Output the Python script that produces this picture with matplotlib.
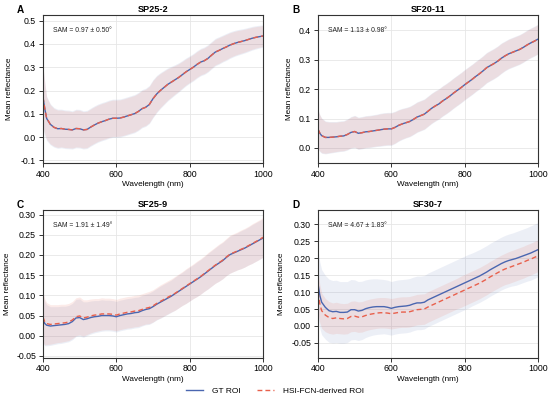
import numpy as np
import matplotlib
matplotlib.use("Agg")
import matplotlib.pyplot as plt
from matplotlib.lines import Line2D

plt.rcParams['font.family'] = ['Liberation Sans', 'DejaVu Sans']

# wavelength grid (nm)
wavelengths = np.concatenate([[400, 405], np.arange(410, 1001, 10)])

panel_letters = ["A", "B", "C", "D"]
panel_titles = ["SP25-2", "SF20-11", "SF25-9", "SF30-7"]
sam_texts = ["SAM = 0.97 ± 0.50°", "SAM = 1.13 ± 0.98°",
             "SAM = 1.91 ± 1.49°", "SAM = 4.67 ± 1.83°"]
legend_labels = ["GT ROI", "HSI-FCN-derived ROI"]

# ---- Panel A: SP25-2 ----
a_gt_mean = [0.170, 0.120, 0.080, 0.055, 0.042, 0.036, 0.037, 0.034, 0.033, 0.031,
             0.037, 0.036, 0.031, 0.033, 0.043, 0.052, 0.060, 0.066, 0.071, 0.077,
             0.081, 0.081, 0.082, 0.086, 0.091, 0.096, 0.101, 0.110, 0.122, 0.128,
             0.140, 0.165, 0.185, 0.200, 0.213, 0.226, 0.236, 0.246, 0.256, 0.268,
             0.280, 0.290, 0.300, 0.312, 0.322, 0.328, 0.338, 0.352, 0.365, 0.372,
             0.380, 0.387, 0.395, 0.401, 0.406, 0.410, 0.414, 0.419, 0.424, 0.428,
             0.431, 0.434]
a_pr_mean = [0.172, 0.122, 0.081, 0.055, 0.042, 0.036, 0.037, 0.034, 0.033, 0.031,
             0.037, 0.036, 0.031, 0.033, 0.043, 0.052, 0.060, 0.066, 0.071, 0.077,
             0.081, 0.081, 0.082, 0.086, 0.091, 0.096, 0.101, 0.110, 0.122, 0.128,
             0.140, 0.165, 0.185, 0.200, 0.213, 0.226, 0.236, 0.246, 0.256, 0.268,
             0.280, 0.290, 0.300, 0.312, 0.322, 0.328, 0.338, 0.352, 0.365, 0.372,
             0.380, 0.387, 0.395, 0.401, 0.406, 0.410, 0.414, 0.419, 0.424, 0.428,
             0.431, 0.434]
a_gt_std = [0.135, 0.115, 0.095, 0.088, 0.085, 0.084, 0.083, 0.083, 0.083, 0.082,
            0.083, 0.083, 0.082, 0.082, 0.082, 0.082, 0.082, 0.082, 0.082, 0.082,
            0.082, 0.082, 0.082, 0.082, 0.082, 0.082, 0.082, 0.082, 0.082, 0.082,
            0.082, 0.082, 0.080, 0.077, 0.074, 0.071, 0.068, 0.065, 0.063, 0.061,
            0.060, 0.059, 0.059, 0.059, 0.059, 0.059, 0.059, 0.059, 0.059, 0.059,
            0.058, 0.058, 0.057, 0.056, 0.055, 0.054, 0.053, 0.052, 0.051, 0.050,
            0.049, 0.048]
a_pr_std = [0.130, 0.110, 0.090, 0.084, 0.081, 0.080, 0.079, 0.079, 0.079, 0.078,
            0.079, 0.079, 0.078, 0.078, 0.078, 0.078, 0.078, 0.078, 0.078, 0.078,
            0.078, 0.078, 0.078, 0.078, 0.078, 0.078, 0.078, 0.078, 0.078, 0.078,
            0.078, 0.078, 0.076, 0.073, 0.070, 0.067, 0.064, 0.061, 0.059, 0.057,
            0.056, 0.055, 0.055, 0.055, 0.055, 0.055, 0.055, 0.055, 0.055, 0.055,
            0.054, 0.054, 0.053, 0.052, 0.051, 0.050, 0.049, 0.048, 0.047, 0.046,
            0.045, 0.045]

# ---- Panel B: SF20-11 ----
b_gt_mean = [0.063, 0.050, 0.042, 0.036, 0.036, 0.037, 0.038, 0.040, 0.041, 0.046,
             0.053, 0.056, 0.050, 0.052, 0.055, 0.056, 0.058, 0.060, 0.062, 0.064,
             0.065, 0.065, 0.070, 0.077, 0.082, 0.086, 0.090, 0.097, 0.105, 0.110,
             0.115, 0.125, 0.135, 0.143, 0.150, 0.160, 0.168, 0.177, 0.187, 0.196,
             0.205, 0.215, 0.224, 0.233, 0.243, 0.252, 0.262, 0.273, 0.280, 0.287,
             0.295, 0.305, 0.313, 0.320, 0.325, 0.330, 0.335, 0.342, 0.350, 0.357,
             0.363, 0.370]
b_pr_mean = [0.064, 0.051, 0.042, 0.036, 0.036, 0.037, 0.038, 0.040, 0.041, 0.046,
             0.053, 0.056, 0.050, 0.052, 0.055, 0.056, 0.058, 0.060, 0.062, 0.064,
             0.065, 0.065, 0.070, 0.077, 0.082, 0.086, 0.090, 0.097, 0.105, 0.110,
             0.115, 0.125, 0.135, 0.143, 0.150, 0.160, 0.168, 0.177, 0.187, 0.196,
             0.205, 0.215, 0.224, 0.233, 0.243, 0.252, 0.262, 0.273, 0.280, 0.287,
             0.295, 0.305, 0.313, 0.320, 0.325, 0.330, 0.335, 0.342, 0.350, 0.357,
             0.363, 0.370]
b_gt_std = [0.068, 0.063, 0.060, 0.056, 0.054, 0.053, 0.052, 0.052, 0.052, 0.053,
            0.054, 0.055, 0.055, 0.055, 0.055, 0.055, 0.055, 0.055, 0.056, 0.056,
            0.056, 0.056, 0.055, 0.054, 0.053, 0.052, 0.052, 0.052, 0.052, 0.052,
            0.052, 0.052, 0.052, 0.052, 0.052, 0.052, 0.052, 0.052, 0.052, 0.052,
            0.052, 0.052, 0.052, 0.052, 0.052, 0.052, 0.052, 0.052, 0.052, 0.052,
            0.052, 0.052, 0.051, 0.051, 0.051, 0.051, 0.051, 0.051, 0.051, 0.051,
            0.051, 0.051]
b_pr_std = [0.066, 0.061, 0.058, 0.054, 0.052, 0.051, 0.050, 0.050, 0.050, 0.051,
            0.052, 0.053, 0.053, 0.053, 0.053, 0.053, 0.053, 0.053, 0.054, 0.054,
            0.054, 0.054, 0.053, 0.052, 0.051, 0.050, 0.050, 0.050, 0.050, 0.050,
            0.050, 0.050, 0.050, 0.050, 0.050, 0.050, 0.050, 0.050, 0.050, 0.050,
            0.050, 0.050, 0.050, 0.050, 0.050, 0.050, 0.050, 0.050, 0.050, 0.050,
            0.050, 0.050, 0.049, 0.049, 0.049, 0.049, 0.049, 0.049, 0.049, 0.049,
            0.049, 0.049]

# ---- Panel C: SF25-9 ----
c_gt_mean = [0.040, 0.030, 0.026, 0.024, 0.025, 0.026, 0.027, 0.028, 0.030, 0.035,
             0.044, 0.045, 0.040, 0.042, 0.045, 0.047, 0.048, 0.050, 0.050, 0.050,
             0.049, 0.047, 0.050, 0.052, 0.054, 0.055, 0.057, 0.058, 0.062, 0.065,
             0.067, 0.072, 0.078, 0.083, 0.088, 0.093, 0.098, 0.104, 0.110, 0.116,
             0.122, 0.128, 0.134, 0.140, 0.146, 0.153, 0.160, 0.167, 0.174, 0.180,
             0.186, 0.194, 0.201, 0.205, 0.209, 0.213, 0.217, 0.222, 0.227, 0.232,
             0.237, 0.242]
c_pr_mean = [0.046, 0.034, 0.030, 0.028, 0.029, 0.030, 0.031, 0.032, 0.034, 0.039,
             0.047, 0.049, 0.044, 0.046, 0.049, 0.051, 0.052, 0.054, 0.054, 0.054,
             0.053, 0.051, 0.054, 0.056, 0.058, 0.059, 0.061, 0.062, 0.065, 0.068,
             0.070, 0.074, 0.080, 0.085, 0.090, 0.095, 0.100, 0.105, 0.111, 0.117,
             0.123, 0.129, 0.135, 0.141, 0.147, 0.154, 0.161, 0.168, 0.175, 0.181,
             0.187, 0.195, 0.202, 0.206, 0.210, 0.214, 0.218, 0.223, 0.228, 0.233,
             0.238, 0.244]
c_gt_std = [0.060, 0.055, 0.051, 0.048, 0.047, 0.046, 0.046, 0.045, 0.045, 0.045,
            0.046, 0.046, 0.044, 0.042, 0.041, 0.040, 0.039, 0.039, 0.038, 0.038,
            0.038, 0.038, 0.038, 0.038, 0.038, 0.038, 0.038, 0.038, 0.038, 0.038,
            0.039, 0.039, 0.039, 0.040, 0.040, 0.040, 0.040, 0.041, 0.041, 0.041,
            0.042, 0.042, 0.042, 0.043, 0.043, 0.043, 0.044, 0.044, 0.044, 0.045,
            0.045, 0.045, 0.046, 0.046, 0.046, 0.047, 0.047, 0.047, 0.048, 0.048,
            0.048, 0.048]
c_pr_std = [0.062, 0.057, 0.052, 0.049, 0.048, 0.047, 0.047, 0.046, 0.046, 0.046,
            0.047, 0.047, 0.045, 0.043, 0.042, 0.041, 0.040, 0.040, 0.039, 0.039,
            0.039, 0.039, 0.039, 0.039, 0.039, 0.039, 0.039, 0.039, 0.039, 0.039,
            0.040, 0.040, 0.040, 0.041, 0.041, 0.041, 0.041, 0.042, 0.042, 0.042,
            0.043, 0.043, 0.043, 0.044, 0.044, 0.044, 0.045, 0.045, 0.045, 0.046,
            0.046, 0.046, 0.047, 0.047, 0.047, 0.048, 0.048, 0.048, 0.049, 0.049,
            0.049, 0.049]

# ---- Panel D: SF30-7 ----
d_gt_mean = [0.125, 0.090, 0.070, 0.055, 0.045, 0.042, 0.043, 0.040, 0.040, 0.041,
             0.048, 0.048, 0.044, 0.046, 0.051, 0.054, 0.056, 0.057, 0.057, 0.057,
             0.055, 0.052, 0.055, 0.057, 0.058, 0.059, 0.061, 0.065, 0.068, 0.068,
             0.070, 0.077, 0.082, 0.087, 0.092, 0.097, 0.102, 0.107, 0.112, 0.117,
             0.122, 0.127, 0.132, 0.137, 0.142, 0.147, 0.153, 0.159, 0.166, 0.172,
             0.178, 0.184, 0.189, 0.193, 0.196, 0.199, 0.203, 0.207, 0.211, 0.215,
             0.220, 0.225]
d_pr_mean = [0.100, 0.065, 0.045, 0.032, 0.025, 0.022, 0.024, 0.022, 0.021, 0.022,
             0.028, 0.029, 0.026, 0.027, 0.031, 0.034, 0.036, 0.038, 0.039, 0.039,
             0.038, 0.036, 0.038, 0.040, 0.041, 0.041, 0.042, 0.045, 0.048, 0.049,
             0.050, 0.056, 0.061, 0.066, 0.071, 0.076, 0.081, 0.086, 0.091, 0.096,
             0.101, 0.106, 0.111, 0.116, 0.121, 0.126, 0.132, 0.138, 0.145, 0.151,
             0.157, 0.163, 0.168, 0.172, 0.176, 0.180, 0.184, 0.188, 0.193, 0.197,
             0.202, 0.207]
d_gt_std = [0.100, 0.098, 0.096, 0.094, 0.093, 0.092, 0.092, 0.091, 0.091, 0.090,
            0.089, 0.088, 0.087, 0.086, 0.085, 0.084, 0.083, 0.082, 0.081, 0.080,
            0.080, 0.079, 0.079, 0.079, 0.079, 0.079, 0.079, 0.079, 0.079, 0.079,
            0.079, 0.079, 0.079, 0.079, 0.079, 0.079, 0.079, 0.079, 0.079, 0.079,
            0.079, 0.079, 0.079, 0.078, 0.078, 0.078, 0.078, 0.078, 0.078, 0.078,
            0.078, 0.078, 0.078, 0.078, 0.078, 0.079, 0.079, 0.079, 0.079, 0.080,
            0.080, 0.080]
d_pr_std = [0.062, 0.056, 0.052, 0.049, 0.047, 0.046, 0.046, 0.045, 0.045, 0.045,
            0.045, 0.045, 0.045, 0.045, 0.045, 0.045, 0.045, 0.045, 0.045, 0.045,
            0.045, 0.045, 0.045, 0.045, 0.045, 0.045, 0.045, 0.045, 0.045, 0.045,
            0.045, 0.045, 0.045, 0.045, 0.045, 0.045, 0.045, 0.045, 0.045, 0.045,
            0.046, 0.046, 0.046, 0.046, 0.046, 0.046, 0.046, 0.046, 0.046, 0.046,
            0.046, 0.046, 0.046, 0.047, 0.047, 0.047, 0.047, 0.047, 0.047, 0.047,
            0.047, 0.047]

panels = [
    (a_gt_mean, a_gt_std, a_pr_mean, a_pr_std),
    (b_gt_mean, b_gt_std, b_pr_mean, b_pr_std),
    (c_gt_mean, c_gt_std, c_pr_mean, c_pr_std),
    (d_gt_mean, d_gt_std, d_pr_mean, d_pr_std),
]
ylims = [(-0.111, 0.524), (-0.051, 0.452), (-0.054, 0.3115), (-0.093, 0.342)]
yticks = [np.arange(-0.1, 0.51, 0.1), np.arange(0.0, 0.41, 0.1),
          np.arange(-0.05, 0.31, 0.05), np.arange(-0.05, 0.31, 0.05)]
yfmt = ["{:.1f}", "{:.1f}", "{:.2f}", "{:.2f}"]
ylabel_x = [-0.136, -0.114, -0.145, -0.15]

blue = "#4a66b0"
red = "#e8604c"

fig = plt.figure(figsize=(5.5, 4.07), dpi=100)
W, H = 550, 407
boxes = [(43, 15, 263, 163), (318, 15, 538, 163),
         (43, 210, 263, 357.5), (318, 210, 538, 357.5)]

for i, (box, data) in enumerate(zip(boxes, panels)):
    l, t, r, b = box
    ax = fig.add_axes([l / W, 1 - b / H, (r - l) / W, (b - t) / H])
    gm, gs, pm, ps = [np.array(v) for v in data]
    ax.fill_between(wavelengths, gm - gs, gm + gs, color=blue, alpha=0.10, lw=0)
    ax.fill_between(wavelengths, pm - ps, pm + ps, color=red, alpha=0.12, lw=0)
    ax.plot(wavelengths, gm, color=blue, lw=1.0)
    ax.plot(wavelengths, pm, color=red, lw=1.0, ls=(0, (3.5, 2.2)))
    ax.set_xlim(400, 1000)
    ax.set_ylim(*ylims[i])
    ax.set_xticks([400, 600, 800, 1000])
    ax.set_yticks(yticks[i])
    ax.set_yticklabels([yfmt[i].format(v + 0.0) for v in yticks[i]])
    ax.tick_params(labelsize=6.3, length=3, width=0.7, pad=2, color="#333333")
    ax.grid(True, color="#e6e6e6", lw=0.6)
    ax.set_axisbelow(True)
    for s in ax.spines.values():
        s.set_color("#333333")
        s.set_linewidth(0.8)
    ax.set_xlabel("Wavelength (nm)", fontsize=5.9, labelpad=1.5)
    ax.set_ylabel("Mean reflectance", fontsize=5.9)
    ax.yaxis.set_label_coords(ylabel_x[i], 0.5)
    ax.set_title(panel_titles[i], fontsize=6.6, fontweight="bold", pad=2.5)
    ax.text(0.045, 0.895, sam_texts[i], transform=ax.transAxes, fontsize=4.9,
            va="center", ha="left", color="#222222")
    fig.text((l - 26) / W, 1 - (t - 5) / H, panel_letters[i], fontsize=7.2,
             fontweight="bold", va="center", ha="left")

handles = [Line2D([], [], color=blue, lw=1.0),
           Line2D([], [], color=red, lw=1.0, ls=(0, (3.5, 2.2)))]
fig.legend(handles, legend_labels, loc="center", bbox_to_anchor=(0.5, 1 - 391 / H),
           ncol=2, frameon=False, fontsize=6.0, handlelength=2.0,
           handletextpad=1.1, columnspacing=2.0)

fig.savefig("out.png", dpi=100)
